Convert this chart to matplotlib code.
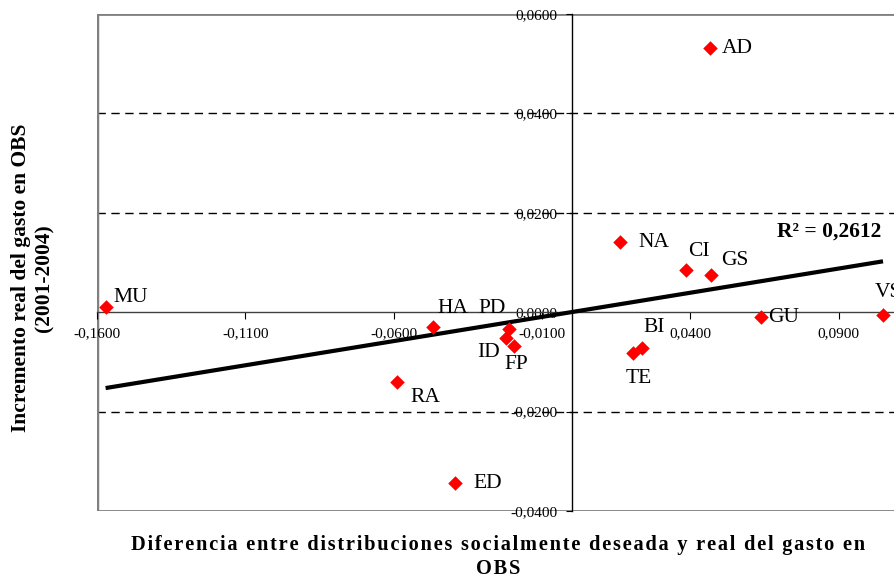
import numpy as np
import matplotlib
matplotlib.use("Agg")
import matplotlib.pyplot as plt
from matplotlib.ticker import FuncFormatter

plt.rcParams['font.family'] = ['Liberation Serif', 'DejaVu Serif']

# data
labels = ['MU', 'HA', 'PD', 'ID', 'FP', 'RA', 'ED', 'NA', 'CI', 'GS', 'AD', 'BI', 'TE', 'GU', 'VS']
x_vals = [-0.1571, -0.0469, -0.0212, -0.0222, -0.0195, -0.0588, -0.0392,
          0.0164, 0.0385, 0.0469, 0.0466, 0.0236, 0.0208, 0.0639, 0.1049]
y_vals = [0.0010, -0.0030, -0.0034, -0.0052, -0.0068, -0.0141, -0.0344,
          0.0141, 0.0085, 0.0074, 0.0531, -0.0072, -0.0083, -0.0010, -0.0006]
x_ticks = [-0.16, -0.11, -0.06, -0.01, 0.04, 0.09]
y_ticks = [-0.04, -0.02, 0.0, 0.02, 0.04, 0.06]
r2_text = '0,2612'

# label offsets in pixels (dx, dy up)
offsets = {'MU': (25, 10), 'HA': (20, 19), 'PD': (-17, 21), 'ID': (-17, -14),
           'FP': (2, -19), 'RA': (28, -15), 'ED': (32, 0), 'NA': (33, 0),
           'CI': (13, 18), 'GS': (24, 15), 'AD': (27, 0), 'BI': (12, 20),
           'TE': (5, -25), 'GU': (22, 0), 'VS': (5, 23)}


def spaced(s):
    # loose letter spacing like the original
    return '\u200a'.join(s)


x = np.array(x_vals)
y = np.array(y_vals)

fig = plt.figure(figsize=(8.94, 5.84), dpi=100)
ax = fig.add_axes([97/894, 73/584, 797/894, 497/584])
ax.set_xlim(-0.16, 0.1086)
ax.set_ylim(-0.04, 0.06)

# dashed grid
for yy in [-0.02, 0.02, 0.04]:
    ax.axhline(yy, color='#000000', lw=1, ls=(0, (6, 4)), zorder=1)
# gray frame
ax.axhline(0.06, color='#808080', lw=2, zorder=1)
ax.axhline(-0.04, color='#808080', lw=2, zorder=1)
ax.axvline(-0.16, color='#808080', lw=2.5, zorder=1)

for s in ['top', 'right']:
    ax.spines[s].set_visible(False)
ax.spines['left'].set_position(('data', 0))
ax.spines['bottom'].set_position(('data', 0))
ax.spines['left'].set_color('black')
ax.spines['bottom'].set_color('#404040')
ax.spines['left'].set_linewidth(1)
ax.spines['bottom'].set_linewidth(1)

fmt = FuncFormatter(lambda v, p: ('%.4f' % v).replace('.', ',').replace('-0,0000', '0,0000'))
ax.set_xticks(x_ticks)
ax.set_yticks(y_ticks)
ax.xaxis.set_major_formatter(fmt)
ax.yaxis.set_major_formatter(fmt)
ax.tick_params(axis='x', direction='out', length=5, pad=6, labelsize=11)
ax.tick_params(axis='y', direction='out', length=4, pad=6, labelsize=11)

# trend line
coef = np.polyfit(x, y, 1)
xl = np.array([x.min(), x.max()])
ax.plot(xl, np.polyval(coef, xl), color='black', lw=3, zorder=3, solid_capstyle='butt')

ax.scatter(x, y, marker='D', s=55, color='#FF0000', zorder=4, linewidths=0)

for lab, xi, yi in zip(labels, x_vals, y_vals):
    dx, dy = offsets[lab]
    ax.annotate(lab, (xi, yi), xytext=(dx*0.72, dy*0.72), textcoords='offset points',
                ha='center', va='center', fontsize=15.5, zorder=5, annotation_clip=False)

ax.text(0.1044, 0.0162, 'R\u00b2 = ' + r2_text, ha='right', va='center',
        fontsize=15.5, fontweight='bold')

fig.text(33/894, 1 - 278/584, 'Incremento real del gasto en OBS\n(2001-2004)',
         rotation=90, ha='center', va='center', fontsize=15.5, fontweight='bold',
         linespacing=1.2)
fig.text(498/894, 1 - 557/584,
         spaced('Diferencia entre distribuciones socialmente deseada y real del gasto en')
         + '\n' + spaced('OBS'),
         ha='center', va='center', fontsize=14.7, fontweight='bold', linespacing=1.25)

fig.savefig('out.png', dpi=100)
